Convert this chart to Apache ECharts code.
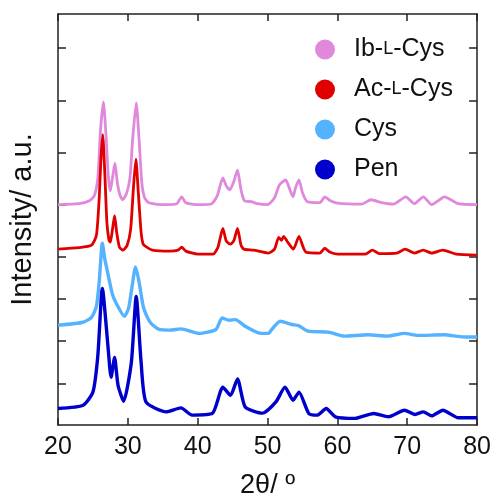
<!DOCTYPE html>
<html>
<head>
<meta charset="utf-8">
<script src="https://cdn.jsdelivr.net/npm/echarts@6/dist/echarts.min.js"></script>
<style>
html,body{margin:0;padding:0;background:#fff;}
#chart{width:494px;height:504px;}
</style>
</head>
<body>
<div id="chart"></div>
<script>
// Names shown in legend
const seriesNames = ['Ib-L-Cys', 'Ac-L-Cys', 'Cys', 'Pen'];
const xTicks = [20, 30, 40, 50, 60, 70, 80];
const yTickValues = [382, 328, 276, 223, 170, 128, 85, 42];

// Ib-L-Cys
const ibTheta = [20,23,24.5,25.2,25.7,26.1,26.5,26.9,27.2,27.5,27.8,28.15,28.5,28.9,29.25,29.8,30.3,30.7,31.2,31.6,32.0,32.4,33,35,37.0,37.7,38.3,40,42,42.8,43.6,44.1,44.6,45.1,45.7,46.2,46.7,47.7,48.5,50,51,51.7,52.6,53.1,53.65,54.0,54.5,55.0,55.7,57.5,58.2,59,60,63.5,64.8,66.4,68,69.8,71,72.3,73.5,75.35,77.3,80];
const ibInt = [223,224,227,232,250,300,327,290,252,237,250,265,245,232,228,234,250,290,326,290,245,230,225,223,224,231,225,223,224,232,250,242,238,245,258,238,227,226,224,223,230,243,248,240,231,240,248,235,226,225,231,227,224.5,223.5,228,225,223.5,231,224,231,223,231,224,223];

// Ac-L-Cys
const acTheta = [20,23,24.8,25.5,25.9,26.15,26.4,26.7,27.0,27.3,27.5,27.8,28.1,28.4,28.8,29.3,29.9,30.4,30.8,31.15,31.5,31.9,32.2,32.7,33.5,36,37.2,37.7,38.3,40,42.2,42.9,43.6,44.1,44.7,45.2,45.7,46.2,46.6,48,50.1,51.0,51.6,52.0,52.3,52.8,53.7,54.5,55.1,55.5,57.5,58.2,58.9,60,64,65.0,66,68.5,69.7,71,72.3,73.5,75.1,77,80];
const acInt = [178,179.5,182,192,230,270,294,255,205,187,185,198,212,195,180,177,182,198,240,269,235,195,183,180,177,176,177,180,176,173,173,180,199,186,183,187,199,182,178,177,174,178,190,187,191,186,178,191,180,175,174,179,175,173,173,177,173.5,174,178,174,177,174,177,173,172];

// Cys
const cysTheta = [20,23.6,24.8,25.5,25.9,26.35,26.7,27.15,27.8,28.35,29.5,30.1,30.6,31.1,31.6,32.2,32.6,33.3,34.4,36,37.6,40.2,42.6,43.5,44.5,45.4,46.8,48.7,50.1,50.6,51.8,53.5,54.4,55.8,58.7,61,64.4,67.2,69.6,71.5,75.3,78.1,80];
const cysInt = [101,104,109,120,145,184,168,153,132,123,110,118,140,160,145,120,112,103,97,96,97.3,92.7,96.7,108.3,106,106.7,100,93.3,92.7,96.7,105,101.7,100.7,95,94,90,91.3,90,92.7,90.7,91.3,89,89];

// Pen
const penTheta = [20,23.6,25.0,25.7,26.35,27.15,27.6,28.1,28.6,29.4,30.5,31.2,31.9,32.6,35.5,37.6,39.2,42.1,43.6,44.7,45.7,46.8,49.3,51.2,52.5,53.65,54.5,55.9,57.1,58.4,59.7,62.5,65.2,67.3,69.6,71.1,72.3,73.5,75.1,77.3,80];
const penInt = [16.7,20,33.3,70,138.3,80,48.3,68.3,40,24,63.3,130,63.3,23.3,13.3,17.3,10,11.7,38.3,30,46.7,18.3,12,23.3,38.3,25,33.3,11.7,10,16.7,8.3,6.7,11.7,8.3,15,10.7,13.3,9.3,15,7.3,7.3];

const colors = ['#e088dc', '#e00000', '#55b2ff', '#0000cc'];
const widths = [2.8, 2.8, 3.4, 3.4];

function pairs(xs, ys) { return xs.map((x, i) => [x, ys[i]]); }
const allData = [pairs(ibTheta, ibInt), pairs(acTheta, acInt), pairs(cysTheta, cysInt), pairs(penTheta, penInt)];

const FONT = 'Liberation Sans';
const chart = echarts.init(document.getElementById('chart'), null, {renderer: 'canvas'});

const yCommon = {
  type: 'value', min: 0, max: 416,
  axisLine: {show: true, lineStyle: {color: '#222', width: 1.5}},
  axisTick: {show: true, inside: true, length: 8, customValues: yTickValues, lineStyle: {color: '#222', width: 1.5}},
  axisLabel: {show: false},
  splitLine: {show: false}
};

const option = {
  backgroundColor: '#fff',
  animation: false,
  grid: {left: 58, top: 14, right: 14, bottom: 74, containLabel: false},
  legend: {
    orient: 'vertical', left: 310, top: 32,
    itemWidth: 38, itemHeight: 20, itemGap: 15,
    icon: 'circle',
    data: seriesNames,
    formatter: function (name) {
      const parts = name.split('-L-');
      if (parts.length === 2) return '{a|' + parts[0] + '-}{s|L}{a|-' + parts[1] + '}';
      return '{a|' + name + '}';
    },
    textStyle: {
      fontFamily: FONT, fontSize: 25, color: '#111', padding: [0, 0, 0, 5],
      rich: {a: {fontFamily: FONT, fontSize: 25, color: '#111'}, s: {fontFamily: FONT, fontSize: 18, color: '#111'}}
    }
  },
  xAxis: [{
    type: 'value', min: 20, max: 80, interval: 10,
    name: '2θ/ º', nameLocation: 'middle', nameGap: 47,
    nameTextStyle: {fontFamily: FONT, fontSize: 27, color: '#111'},
    axisLine: {show: true, onZero: false, lineStyle: {color: '#222', width: 1.5}},
    axisTick: {show: true, inside: true, length: 7, lineStyle: {color: '#222', width: 1.5}},
    axisLabel: {fontFamily: FONT, fontSize: 25, color: '#111', margin: 10},
    splitLine: {show: false}
  }, {
    type: 'value', min: 20, max: 80, interval: 10, position: 'top',
    axisLine: {show: true, onZero: false, lineStyle: {color: '#222', width: 1.5}},
    axisTick: {show: true, inside: true, length: 7, lineStyle: {color: '#222', width: 1.5}},
    axisLabel: {show: false},
    splitLine: {show: false}
  }],
  yAxis: [Object.assign({}, yCommon, {
    position: 'left',
    name: 'Intensity/ a.u.', nameLocation: 'middle', nameGap: 21, nameRotate: 90,
    nameTextStyle: {fontFamily: FONT, fontSize: 29, color: '#111'}
  }), Object.assign({}, yCommon, {position: 'right'})],
  series: seriesNames.map((n, i) => ({
    name: n, type: 'line', data: allData[i], xAxisIndex: 0, yAxisIndex: 0,
    showSymbol: false, symbol: 'circle', smooth: 0.2,
    itemStyle: {color: colors[i]},
    lineStyle: {color: colors[i], width: widths[i]},
    z: 2 + i
  }))
};
chart.setOption(option);
</script>
</body>
</html>
